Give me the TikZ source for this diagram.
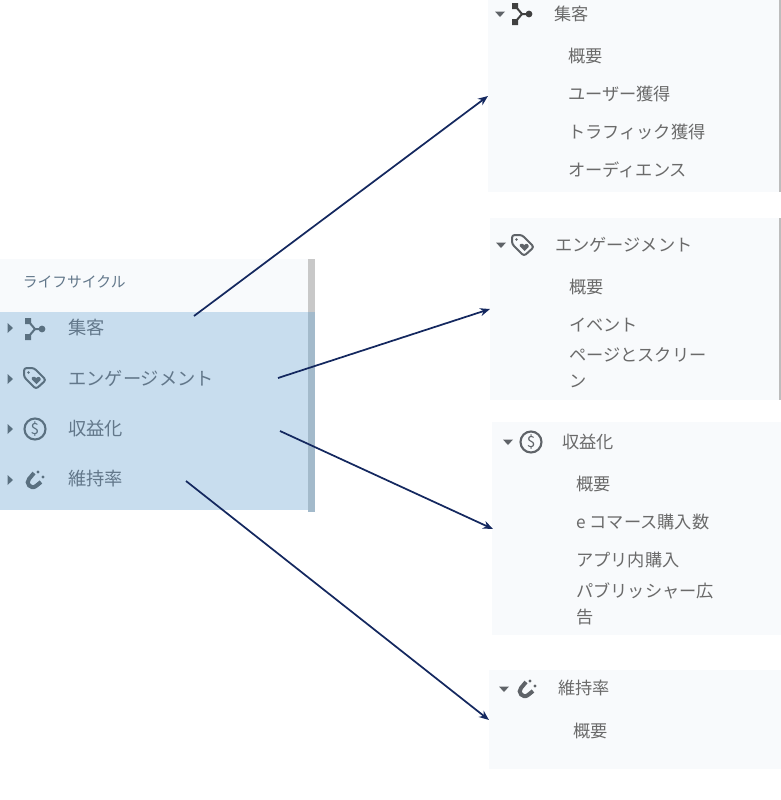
\documentclass[tikz,border=0pt]{standalone}
\usepackage{fontspec}
\setmainfont{Noto Sans CJK JP}
\definecolor{panelbg}{HTML}{F8FAFC}
\definecolor{selbg}{HTML}{C8DDEE}
\definecolor{barbg}{HTML}{C8C8C8}
\definecolor{barsel}{HTML}{A3BACB}
\definecolor{edgegray}{HTML}{BDBDBD}
\definecolor{lefttext}{HTML}{62778A}
\definecolor{righttext}{HTML}{6A6A6A}
\definecolor{lefticon}{HTML}{5A7080}
\definecolor{righticon}{HTML}{5F6368}
\definecolor{arrowblue}{HTML}{14285F}
\usetikzlibrary{arrows.meta}
\tikzset{
  panel/.style={fill=panelbg,draw=none},
  lefthead/.style={anchor=west,inner sep=0pt,text=lefttext,font=\fontsize{13.7}{16}\selectfont},
  righthead/.style={anchor=west,inner sep=0pt,text=righttext,font=\fontsize{12.9}{16}\selectfont},
  subitem/.style={anchor=west,inner sep=0pt,text=righttext,font=\fontsize{12.9}{19.5}\selectfont,align=left},
  titletext/.style={anchor=west,inner sep=0pt,text=lefttext,font=\fontsize{11.1}{14}\selectfont},
  link/.style={draw=arrowblue,line width=1.3pt,-{Stealth[length=7.5pt,width=6pt]}},
  pics/fork/.style={code={
    \draw[#1,line width=1.5pt] (-6,-7) -- (0,0) -- (-6,7) (0,0) -- (7,0);
    \fill[#1] (-10,-11) rectangle (-4,-5) (-10,5) rectangle (-4,11);
    \fill[#1] (7,0) circle (3.4);
  }},
  pics/tag/.style={code={
    \draw[#1,line width=1.5pt,rounded corners=2pt,line join=round]
      (-11,-10) -- (-1,-10) -- (11,2) -- (1,11) -- (-11,-1) -- cycle;
    \fill[#1] (-6.5,-5.5) circle (1.3);
    \fill[#1] (1.5,6) -- (-3,1.5) .. controls (-4.5,-1) and (-1,-2.5) .. (1.5,0)
      .. controls (3,-2.5) and (6.5,-0.5) .. (5.5,2) -- cycle;
  }},
  pics/dollar/.style={code={
    \draw[#1,line width=1.6pt] (0,0) circle (10.5);
    \node[inner sep=0pt,text=#1,font=\fontsize{11.5}{12}\selectfont] (dollarsign) at (0,0) {\$};
  }},
  pics/magnet/.style={code={
    \draw[#1,line width=3pt] (-1,-7) -- (-6,-1) .. controls (-10,3) and (-4,10) .. (1,6) -- (6,2);
    \fill[#1] (3,-8) circle (1.7);
    \fill[#1] (8,-3) circle (1.7);
  }},
  pics/closedtri/.style={code={\fill[#1] (-2.5,-5) -- (3,0) -- (-2.5,5) -- cycle;}},
  pics/opentri/.style={code={\fill[#1] (-5,-2.5) -- (5,-2.5) -- (0,3) -- cycle;}},
}
\begin{document}
\begin{tikzpicture}[x=0.75pt,y=-0.75pt]
\useasboundingbox (0,0) rectangle (781,800);
% left panel
\fill[panelbg] (0,259) rectangle (308,312);
\fill[selbg] (0,312) rectangle (308,510);
\fill[barbg] (308,259) rectangle (315,312);
\fill[barsel] (308,312) rectangle (315,512);
\node[titletext] (ltitle) at (22.5,282) {ライフサイクル};
\pic at (10,328) {closedtri=lefticon};
\pic at (10,379) {closedtri=lefticon};
\pic at (10,429) {closedtri=lefticon};
\pic at (10,480) {closedtri=lefticon};
\pic at (35,329) {fork=lefticon};
\pic at (35,378) {tag=lefticon};
\pic at (35,429) {dollar=lefticon};
\pic at (35,480) {magnet=lefticon};
\node[lefthead] (l1) at (68,328) {集客};
\node[lefthead] (l2) at (68,378) {エンゲージメント};
\node[lefthead] (l3) at (68,429) {収益化};
\node[lefthead] (l4) at (68,479) {維持率};
% right panel 1
\fill[panelbg] (488,0) rectangle (779,192);
\fill[edgegray] (779,0) rectangle (781,192);
\pic at (500,14) {opentri=righticon};
\pic at (522,14) {fork=black!75};
\node[righthead] (r1) at (554,14) {集客};
\node[subitem] (r1a) at (568,56) {概要};
\node[subitem] (r1b) at (568,94) {ユーザー獲得};
\node[subitem] (r1c) at (568,132) {トラフィック獲得};
\node[subitem] (r1d) at (568,170) {オーディエンス};
% right panel 2
\fill[panelbg] (490,218) rectangle (779,400);
\fill[edgegray] (779,218) rectangle (781,400);
\pic at (501,245) {opentri=righticon};
\pic at (523,245) {tag=righticon};
\node[righthead] (r2) at (555,245) {エンゲージメント};
\node[subitem] (r2a) at (569,287) {概要};
\node[subitem] (r2b) at (569,325) {イベント};
\node[subitem] (r2c) at (569,368) {ページとスクリー\\ン};
% right panel 3
\fill[panelbg] (492,422) rectangle (781,635);
\pic at (508,442) {opentri=righticon};
\pic at (531,442) {dollar=righticon};
\node[righthead] (r3) at (562,442) {収益化};
\node[subitem] (r3a) at (576,484) {概要};
\node[subitem] (r3b) at (576,522) {e コマース購入数};
\node[subitem] (r3c) at (576,560) {アプリ内購入};
\node[subitem] (r3d) at (576,604) {パブリッシャー広\\告};
% right panel 4
\fill[panelbg] (489,670) rectangle (781,769);
\pic at (504,689) {opentri=righticon};
\pic at (527,689) {magnet=righticon};
\node[righthead] (r4) at (558,688) {維持率};
\node[subitem] (r4a) at (573,731) {概要};
% connector ends
\coordinate (s1) at (194,316);
\coordinate (e1) at (488,96);
\coordinate (s2) at (278,378);
\coordinate (e2) at (490,309);
\coordinate (s3) at (280,431);
\coordinate (e3) at (493,529);
\coordinate (s4) at (186,481);
\coordinate (e4) at (489,720);
\draw[link] (s1) -- (e1);
\draw[link] (s2) -- (e2);
\draw[link] (s3) -- (e3);
\draw[link] (s4) -- (e4);
\end{tikzpicture}
\end{document}
